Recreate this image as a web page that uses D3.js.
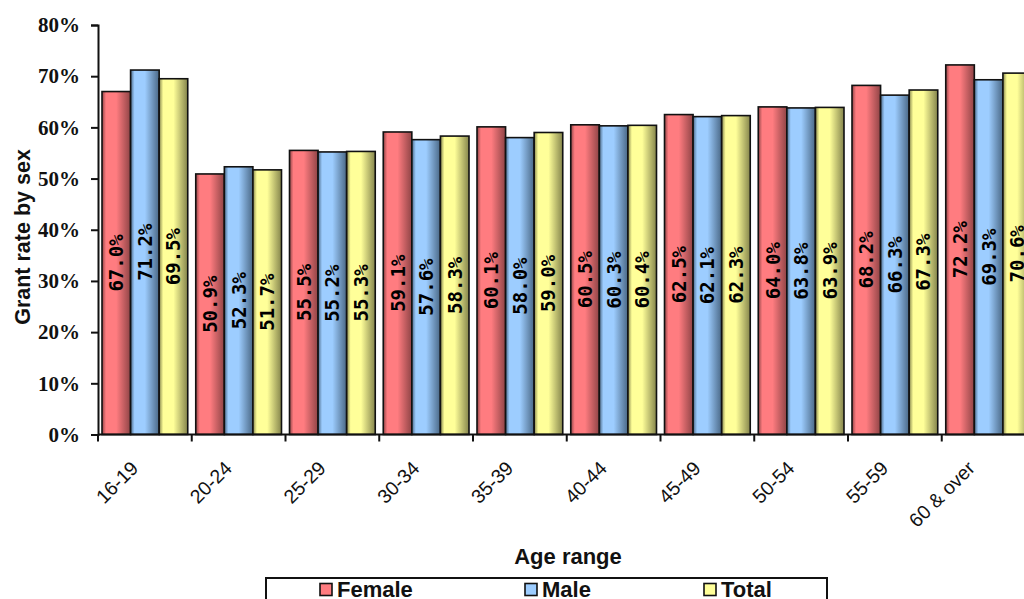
<!DOCTYPE html>
<html><head><meta charset="utf-8">
<script src="https://cdn.jsdelivr.net/npm/d3@7"></script>
<style>html,body{margin:0;padding:0;background:#fff;overflow:hidden}</style>
</head><body>
<svg id="c" width="1024" height="599"></svg>
<script>
const categories = ["16-19","20-24","25-29","30-34","35-39","40-44","45-49","50-54","55-59","60 & over"];
const seriesNames = ["Female","Male","Total"];
const female = [67.0,50.9,55.5,59.1,60.1,60.5,62.5,64.0,68.2,72.2];
const male   = [71.2,52.3,55.2,57.6,58.0,60.3,62.1,63.8,66.3,69.3];
const total  = [69.5,51.7,55.3,58.3,59.0,60.4,62.3,63.9,67.3,70.6];
const yTicks = [0,10,20,30,40,50,60,70,80];

const seriesVals = [female, male, total];
const colors = [
  {light:"#ff7c80", dark:"#8f4446"},
  {light:"#9dcdff", dark:"#4a6886"},
  {light:"#ffff99", dark:"#85854c"}
];

const svg = d3.select("#c");
const defs = svg.append("defs");
colors.forEach((c,i)=>{
  const g = defs.append("linearGradient").attr("id","g"+i).attr("x1","0").attr("x2","1").attr("y1","0").attr("y2","0");
  g.append("stop").attr("offset","0%").attr("stop-color",c.dark);
  g.append("stop").attr("offset","14%").attr("stop-color",c.light);
  g.append("stop").attr("offset","50%").attr("stop-color",c.light);
  g.append("stop").attr("offset","100%").attr("stop-color",c.dark);
});

const plotLeft = 98, plotBottom = 434.5, plotTop = 25;
const x0 = d3.scaleBand().domain(categories).range([plotLeft, plotLeft + 93.75*categories.length]).padding(0);
const x1 = d3.scaleBand().domain(seriesNames).range([0, x0.bandwidth()]).paddingInner(0).paddingOuter(0.14);
const y = d3.scaleLinear().domain([0,80]).range([plotBottom, plotTop]);

// bars
const groups = svg.append("g").selectAll("g").data(categories).join("g")
  .attr("transform", d => `translate(${x0(d)},0)`);
groups.each(function(cat, ci){
  const g = d3.select(this);
  seriesNames.forEach((s, si)=>{
    const v = seriesVals[si][ci];
    g.append("rect")
      .attr("x", x1(s)).attr("y", y(v))
      .attr("width", x1.bandwidth()).attr("height", y(0)-y(v))
      .attr("fill", `url(#g${si})`).attr("stroke","#111").attr("stroke-width",1.6);
  });
});
// value labels
groups.each(function(cat, ci){
  const g = d3.select(this);
  seriesNames.forEach((s, si)=>{
    const v = seriesVals[si][ci];
    const cx = x1(s) + x1.bandwidth()/2;
    const cy = (y(v)+y(0))/2;
    g.append("text")
      .attr("transform", `translate(${cx},${cy}) rotate(-90)`)
      .attr("text-anchor","middle").attr("dominant-baseline","central")
      .style("font-family","'DejaVu Sans Mono', monospace").style("font-weight","bold")
      .style("font-size","19px").attr("fill","#000")
      .text(v.toFixed(1) + "%");
  });
});

// y axis
const yAxis = d3.axisLeft(y).tickValues(yTicks).tickFormat(d => d + "%").tickSize(7).tickPadding(11);
const ya = svg.append("g").attr("transform", `translate(${plotLeft},0)`).call(yAxis);
ya.select(".domain").attr("stroke","#111").attr("stroke-width",2);
ya.selectAll(".tick line").attr("stroke","#111").attr("stroke-width",2);
ya.selectAll(".tick text").style("font-family","'Liberation Serif', serif").style("font-weight","bold")
  .style("font-size","21px").attr("fill","#111");

// x axis
const xa = svg.append("g").attr("transform", `translate(0,${plotBottom})`);
xa.append("line").attr("x1", plotLeft).attr("x2", 1040).attr("y1",0).attr("y2",0).attr("stroke","#111").attr("stroke-width",2);
xa.selectAll("line.tk").data(categories).join("line").attr("class","tk")
  .attr("x1", d=>x0(d)).attr("x2", d=>x0(d)).attr("y1",0).attr("y2",7).attr("stroke","#111").attr("stroke-width",2);
const xl = xa.selectAll("text.lb").data(categories).join("text").attr("class","lb")
  .style("font-family","'Liberation Sans', Arial, sans-serif").style("font-size","19.5px").attr("fill","#111")
  .attr("text-anchor","end").text(d=>d);
xl.each(function(d){
  const L = this.getComputedTextLength();
  const ax = x0(d) + x0.bandwidth()/2 - (0.21*L - 5);
  d3.select(this).attr("transform", `translate(${ax},35) rotate(-45)`);
});

// axis titles
svg.append("text").attr("transform","translate(30,237) rotate(-90)").attr("text-anchor","middle")
  .style("font-family","'Liberation Sans', Arial, sans-serif").style("font-weight","bold").style("font-size","21.5px")
  .attr("fill","#111").text("Grant rate by sex");
svg.append("text").attr("x",568).attr("y",564).attr("text-anchor","middle")
  .style("font-family","'Liberation Sans', Arial, sans-serif").style("font-weight","bold").style("font-size","22px")
  .attr("fill","#111").text("Age range");

// legend
const lg = svg.append("g");
lg.append("rect").attr("x",266).attr("y",578).attr("width",561).attr("height",40).attr("fill","#fff").attr("stroke","#111").attr("stroke-width",2);
const legX = [320, 525, 704];
seriesNames.forEach((s,i)=>{
  lg.append("rect").attr("x",legX[i]).attr("y",583.5).attr("width",12).attr("height",12)
    .attr("fill",colors[i].light).attr("stroke","#111").attr("stroke-width",1.6);
  lg.append("text").attr("x",legX[i]+17).attr("y",597)
    .style("font-family","'Liberation Sans', Arial, sans-serif").style("font-weight","bold").style("font-size","22px")
    .attr("fill","#111").text(s);
});
</script>
</body></html>
